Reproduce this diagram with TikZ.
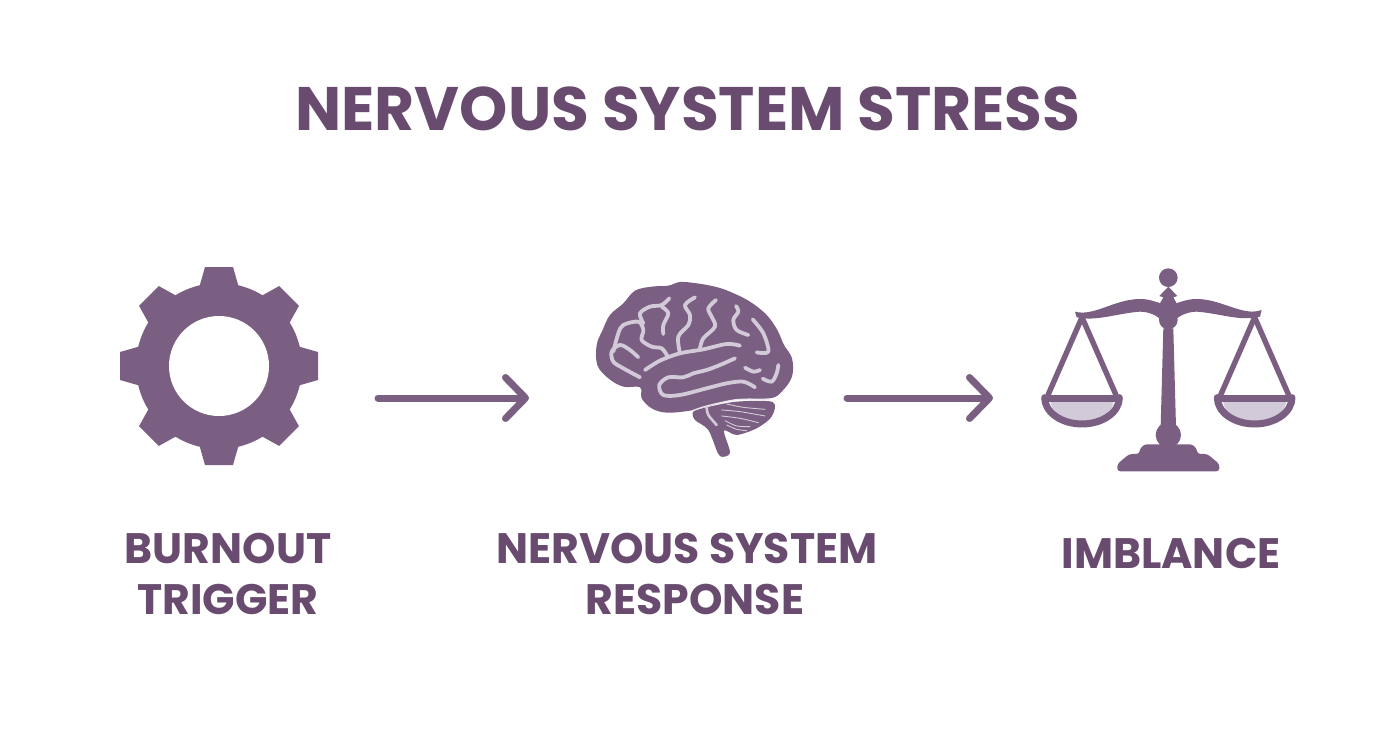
\documentclass[tikz,border=0pt]{standalone}
\usepackage{fontspec}
\setmainfont{Poppins}
\usetikzlibrary{arrows.meta}
\definecolor{plum}{HTML}{7B5F82}
\definecolor{inkplum}{HTML}{6A4B70}
\definecolor{lilac}{HTML}{D2CAD8}
\tikzset{
  icon/.style={fill=plum,draw=none},
  sulcus/.style={draw=lilac,line width=3.8pt,line cap=round,line join=round},
  fine/.style={draw=lilac,line width=0.9pt,line cap=round},
  bar/.style={draw=plum,line width=5.4pt,line cap=round},
  flow/.style={draw=plum,line width=7pt,line cap=round,line join=round,
     -{Straight Barb[length=20pt,width=41pt,round,line width=7pt]}},
  title/.style={text=inkplum,font=\fontsize{61.4}{64}\selectfont\bfseries,anchor=center,inner sep=0pt},
  label/.style={text=inkplum,font=\fontsize{42.6}{51}\selectfont\bfseries,align=center,anchor=center,inner sep=0pt}
}
\newcommand\sulc[1]{\draw[sulcus] plot[smooth,tension=0.55] coordinates {#1};}
\newcommand\finel[1]{\draw[fine] plot[smooth] coordinates {#1};}
\begin{document}
\begin{tikzpicture}[x=1pt,y=-1pt]
\useasboundingbox[fill=white] (0,0) rectangle (1392,752);
\node[title] (head) at (688,109) {NERVOUS SYSTEM STRESS};
% gear
\begin{scope}[shift={(219,366)}]
  \fill[icon] (0,0) circle (83);
  \foreach \a in {0,45,...,315}{
    \fill[icon,rotate=\a] (-20,-78) -- (-14,-99) -- (14,-99) -- (20,-78) -- cycle;
  }
  \fill[white] (0,0) circle (50);
\end{scope}
% brain
\begin{scope}[shift={(580,270)},x=0.3333pt,y=-0.3333pt]
  \fill[icon] plot[smooth cycle,tension=0.6] coordinates {
    (180,352)(130,350)(85,325)(52,285)(50,225)(68,180)(90,135)(130,100)(165,62)(215,50)(265,47)
    (300,36)(350,40)(405,50)(450,65)(510,95)(560,135)(592,180)(612,225)(636,265)(636,320)(605,365)
    (570,385)(470,388)(380,410)(330,422)(260,428)(215,415)(185,385)};
  \fill[icon] plot[smooth cycle,tension=0.5] coordinates {
    (340,425)(380,412)(470,395)(578,396)(575,440)(530,475)(470,495)(432,482)(450,545)(435,560)(415,552)(385,480)(345,450)};
  \draw[draw=white!85!plum,line width=1.2pt] plot[smooth,tension=0.5] coordinates {(338,422)(380,408)(470,389)(570,388)};
  \sulc{(180,322)(130,295)(100,275)(95,245)(120,225)(150,240)(175,262)}
  \sulc{(100,245)(115,190)(130,165)(175,155)(190,180)(185,210)(215,230)(245,235)(262,258)}
  \sulc{(190,160)(180,130)(210,110)(245,105)(268,85)}
  \sulc{(245,110)(265,130)(250,165)(250,192)}
  \sulc{(195,300)(240,272)(300,250)(370,238)(440,222)(480,227)}
  \sulc{(300,250)(295,200)(325,165)(330,135)(315,105)(345,82)}
  \sulc{(360,235)(370,205)(405,170)(395,140)(385,115)(408,90)}
  \sulc{(468,108)(475,125)(460,150)(470,180)(505,195)}
  \sulc{(518,148)(550,190)(565,245)(530,247)}
  \sulc{(465,265)(420,285)(380,300)(340,310)(310,322)(265,322)(238,345)(250,375)(300,375)(380,355)(440,340)(490,335)(525,352)}
  \sulc{(495,293)(520,305)(540,300)}
  \sulc{(548,326)(575,335)(590,310)(595,285)}
  \draw[sulcus,line width=2.6pt] plot[smooth,tension=0.5] coordinates {(380,412)(385,435)(410,465)};
  \finel{(440,402)(490,412)(555,418)}
  \finel{(425,420)(480,425)(555,438)}
  \finel{(425,438)(480,445)(535,458)}
  \finel{(435,452)(470,468)(510,470)}
  \finel{(440,465)(470,478)(500,482)}
\end{scope}
% scale
\begin{scope}[shift={(1030,260)},x=0.3333pt,y=-0.3333pt]
  \foreach \cx in {156,674}{
    \fill[lilac] (\cx-95,420) arc[start angle=180,end angle=360,x radius=95,y radius=-66] -- cycle;
    \draw[draw=plum,line width=7.5pt,line cap=butt] (\cx-118,415) -- (\cx+118,415);
    \draw[draw=plum,line width=7pt,line cap=round] (\cx-112,413) arc[start angle=180,end angle=360,x radius=112,y radius=-79];
    \draw[bar] (\cx,172) -- (\cx-102,405);
    \draw[bar] (\cx,172) -- (\cx+102,405);
  }
  % beam
  \fill[icon] (135,155) .. controls (190,170) and (250,120) .. (325,117)
     .. controls (355,116) and (375,125) .. (392,130) -- (438,130)
     .. controls (455,125) and (475,116) .. (505,117)
     .. controls (580,120) and (640,170) .. (695,150)
     -- (690,170) .. controls (630,185) and (570,160) .. (500,155)
     .. controls (470,155) and (445,170) .. (435,180) -- (393,180)
     .. controls (385,170) and (360,155) .. (330,155)
     .. controls (260,160) and (200,185) .. (140,172) -- cycle;
  % centre
  \fill[icon] (415,53) circle (28);
  \fill[icon] (415,80) -- (388,108) -- (400,112) -- (390,130) -- (440,130) -- (430,112) -- (442,108) -- cycle;
  \fill[icon] (388,130) rectangle (442,180);
  \fill[icon] (415,180) circle (28);
  \fill[icon] (400,205) -- (430,205) -- (438,500) -- (392,500) -- cycle;
  \fill[icon] (415,525) ellipse (38 and 38);
  \fill[icon,rounded corners=3pt] (262,634) -- (262,612) -- (298,582) -- (328,582)
     .. controls (330,565) and (340,553) .. (360,553) -- (470,553)
     .. controls (490,553) and (500,565) .. (502,582) -- (532,582) -- (568,612) -- (568,634) -- cycle;
\end{scope}
% arrows
\coordinate (a1s) at (378,398);
\coordinate (a1e) at (529,398);
\coordinate (a2s) at (847,398);
\coordinate (a2e) at (993,398);
\draw[flow] (a1s) -- (a1e);
\draw[flow] (a2s) -- (a2e);
% labels
\node[label] (l1) at (228,574) {BURNOUT\\TRIGGER};
\node[label] (l2) at (687,574) {NERVOUS SYSTEM\\\hspace*{16pt}RESPONSE};
\node[label] (l3) at (1171,553) {IMBLANCE};
\end{tikzpicture}
\end{document}
